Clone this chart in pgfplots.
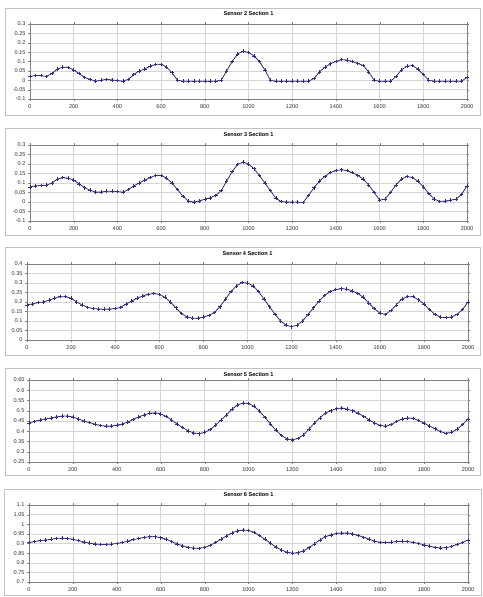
\documentclass[border=0pt]{standalone}
\usepackage{pgfplots}
\pgfplotsset{compat=1.18}
\usepackage{fontspec}
\setmainfont{Liberation Sans}
\definecolor{navy}{RGB}{50,45,125}
\definecolor{framegray}{RGB}{195,195,195}
\pgfplotsset{panel/.style={
  scale only axis, width=437bp, xmin=0, xmax=2000, xtick distance=200,
  grid=major, grid style={black!17, line width=0.45pt},
  axis line style={black!50}, tick style={black!50},
  tick align=outside, major tick length=2bp,
  ticklabel style={font=\fontsize{5.6}{6}\selectfont, text=black!80},
  /pgf/number format/assume math mode=true,
  yticklabel style={/pgf/number format/fixed, /pgf/number format/precision=2, xshift=1bp},
  xticklabel style={/pgf/number format/1000 sep={}},
  title style={font=\bfseries\fontsize{5.6}{6}\selectfont, at={(0.5,1)}, anchor=south, yshift=-1bp},
},
sens/.style={color=navy, mark=+, mark size=1.8bp, line width=0.8pt, mark options={line width=0.6pt, solid}}}
\begin{document}
\begin{tikzpicture}
\path[use as bounding box, fill=white] (0bp,0bp) rectangle (483bp,-597bp);
\draw[framegray, line width=0.6pt] (5bp,-8bp) rectangle (480bp,-115bp);
\draw[framegray, line width=0.6pt] (5bp,-128bp) rectangle (480bp,-235bp);
\draw[framegray, line width=0.6pt] (5bp,-247bp) rectangle (480bp,-355bp);
\draw[framegray, line width=0.6pt] (5bp,-368bp) rectangle (480bp,-475bp);
\draw[framegray, line width=0.6pt] (4bp,-489bp) rectangle (481bp,-595bp);

% Sensor 2
\begin{axis}[panel, at={(30bp,-99bp)}, anchor=south west, height=75bp,
  ymin=-0.1, ymax=0.3, ytick distance=0.05, title={Sensor 2 Section 1}]
\addplot[sens] coordinates {(0,0.02)(25,0.025)(50,0.025)(75,0.02)(100,0.035)(125,0.06)(150,0.07)(175,0.068)(200,0.055)(225,0.035)(250,0.015)(275,0.005)(300,-0.005)(325,0)(350,0.005)(375,0.002)(400,-0.002)(425,-0.005)(450,0.005)(475,0.03)(500,0.05)(525,0.06)(550,0.075)(575,0.085)(600,0.085)(625,0.07)(650,0.04)(675,0)(700,-0.005)(725,-0.005)(750,-0.005)(775,-0.005)(800,-0.005)(825,-0.005)(850,-0.005)(875,0)(900,0.05)(925,0.1)(950,0.14)(975,0.155)(1000,0.148)(1025,0.13)(1050,0.1)(1075,0.055)(1100,0)(1125,-0.005)(1150,-0.005)(1175,-0.005)(1200,-0.005)(1225,-0.005)(1250,-0.005)(1275,-0.005)(1300,0.01)(1325,0.045)(1350,0.07)(1375,0.088)(1400,0.1)(1425,0.11)(1450,0.108)(1475,0.1)(1500,0.09)(1525,0.078)(1550,0.045)(1575,0)(1600,-0.005)(1625,-0.005)(1650,-0.005)(1675,0.02)(1700,0.055)(1725,0.075)(1750,0.078)(1775,0.06)(1800,0.03)(1825,0)(1850,-0.005)(1875,-0.005)(1900,-0.005)(1925,-0.005)(1950,-0.005)(1975,-0.005)(2000,0.015)};
\end{axis}

% Sensor 3
\begin{axis}[panel, at={(30bp,-221bp)}, anchor=south west, height=76bp,
  ymin=-0.1, ymax=0.3, ytick distance=0.05, title={Sensor 3 Section 1}]
\addplot[sens] coordinates {(0,0.08)(25,0.085)(50,0.087)(75,0.088)(100,0.1)(125,0.12)(150,0.128)(175,0.125)(200,0.115)(225,0.095)(250,0.075)(275,0.062)(300,0.052)(325,0.052)(350,0.057)(375,0.057)(400,0.055)(425,0.052)(450,0.065)(475,0.085)(500,0.1)(525,0.115)(550,0.128)(575,0.14)(600,0.14)(625,0.125)(650,0.1)(675,0.065)(700,0.03)(725,0.005)(750,0)(775,0.005)(800,0.015)(825,0.022)(850,0.035)(875,0.06)(900,0.11)(925,0.16)(950,0.198)(975,0.21)(1000,0.2)(1025,0.175)(1050,0.14)(1075,0.1)(1100,0.06)(1125,0.02)(1150,0.002)(1175,0)(1200,0)(1225,0)(1250,-0.003)(1275,0.035)(1300,0.075)(1325,0.11)(1350,0.135)(1375,0.155)(1400,0.165)(1425,0.17)(1450,0.165)(1475,0.155)(1500,0.14)(1525,0.12)(1550,0.09)(1575,0.05)(1600,0.01)(1625,0.015)(1650,0.05)(1675,0.09)(1700,0.12)(1725,0.135)(1750,0.128)(1775,0.11)(1800,0.08)(1825,0.045)(1850,0.015)(1875,0.003)(1900,0.005)(1925,0.01)(1950,0.015)(1975,0.04)(2000,0.085)};
\end{axis}

% Sensor 4
\begin{axis}[panel, at={(27bp,-340bp)}, anchor=south west, width=441bp, height=76bp,
  ymin=0, ymax=0.4, ytick distance=0.05, title={Sensor 4 Section 1}]
\addplot[sens] coordinates {(0,0.185)(25,0.19)(50,0.197)(75,0.2)(100,0.21)(125,0.22)(150,0.228)(175,0.228)(200,0.22)(225,0.2)(250,0.185)(275,0.172)(300,0.165)(325,0.163)(350,0.162)(375,0.163)(400,0.165)(425,0.172)(450,0.19)(475,0.205)(500,0.22)(525,0.232)(550,0.24)(575,0.245)(600,0.24)(625,0.225)(650,0.2)(675,0.17)(700,0.14)(725,0.122)(750,0.115)(775,0.115)(800,0.12)(825,0.13)(850,0.145)(875,0.175)(900,0.215)(925,0.255)(950,0.285)(975,0.302)(1000,0.3)(1025,0.285)(1050,0.255)(1075,0.215)(1100,0.175)(1125,0.135)(1150,0.1)(1175,0.078)(1200,0.07)(1225,0.078)(1250,0.1)(1275,0.135)(1300,0.17)(1325,0.205)(1350,0.235)(1375,0.255)(1400,0.265)(1425,0.27)(1450,0.268)(1475,0.258)(1500,0.245)(1525,0.225)(1550,0.195)(1575,0.165)(1600,0.142)(1625,0.135)(1650,0.155)(1675,0.185)(1700,0.215)(1725,0.228)(1750,0.228)(1775,0.212)(1800,0.19)(1825,0.16)(1850,0.135)(1875,0.12)(1900,0.118)(1925,0.12)(1950,0.135)(1975,0.16)(2000,0.2)};
\end{axis}

% Sensor 5
\begin{axis}[panel, at={(29bp,-462bp)}, anchor=south west, width=439bp, height=82bp,
  ymin=0.25, ymax=0.65, ytick distance=0.05, title={Sensor 5 Section 1},
  title style={yshift=-5bp}]
\addplot[sens] coordinates {(0,0.44)(25,0.448)(50,0.455)(75,0.46)(100,0.465)(125,0.47)(150,0.474)(175,0.474)(200,0.47)(225,0.46)(250,0.45)(275,0.442)(300,0.435)(325,0.428)(350,0.425)(375,0.425)(400,0.43)(425,0.435)(450,0.445)(475,0.458)(500,0.47)(525,0.48)(550,0.488)(575,0.49)(600,0.485)(625,0.472)(650,0.455)(675,0.435)(700,0.418)(725,0.402)(750,0.392)(775,0.388)(800,0.395)(825,0.408)(850,0.43)(875,0.455)(900,0.48)(925,0.508)(950,0.528)(975,0.538)(1000,0.535)(1025,0.522)(1050,0.498)(1075,0.468)(1100,0.435)(1125,0.405)(1150,0.38)(1175,0.363)(1200,0.358)(1225,0.365)(1250,0.382)(1275,0.41)(1300,0.44)(1325,0.465)(1350,0.488)(1375,0.5)(1400,0.51)(1425,0.514)(1450,0.508)(1475,0.5)(1500,0.488)(1525,0.472)(1550,0.455)(1575,0.44)(1600,0.428)(1625,0.425)(1650,0.432)(1675,0.448)(1700,0.46)(1725,0.465)(1750,0.463)(1775,0.452)(1800,0.44)(1825,0.425)(1850,0.412)(1875,0.398)(1900,0.39)(1925,0.395)(1950,0.41)(1975,0.432)(2000,0.46)};
\end{axis}

% Sensor 6
\begin{axis}[panel, at={(29bp,-582bp)}, anchor=south west, width=439bp, height=77bp,
  ymin=0.7, ymax=1.1, ytick distance=0.05, title={Sensor 6 Section 1}]
\addplot[sens] coordinates {(0,0.905)(25,0.91)(50,0.915)(75,0.918)(100,0.922)(125,0.927)(150,0.928)(175,0.926)(200,0.922)(225,0.915)(250,0.908)(275,0.902)(300,0.898)(325,0.895)(350,0.895)(375,0.897)(400,0.9)(425,0.905)(450,0.912)(475,0.92)(500,0.926)(525,0.932)(550,0.935)(575,0.935)(600,0.93)(625,0.922)(650,0.91)(675,0.898)(700,0.888)(725,0.88)(750,0.876)(775,0.875)(800,0.88)(825,0.89)(850,0.905)(875,0.922)(900,0.94)(925,0.955)(950,0.966)(975,0.97)(1000,0.968)(1025,0.958)(1050,0.942)(1075,0.922)(1100,0.902)(1125,0.882)(1150,0.866)(1175,0.855)(1200,0.85)(1225,0.852)(1250,0.862)(1275,0.878)(1300,0.898)(1325,0.918)(1350,0.935)(1375,0.945)(1400,0.952)(1425,0.955)(1450,0.955)(1475,0.95)(1500,0.942)(1525,0.932)(1550,0.922)(1575,0.912)(1600,0.906)(1625,0.905)(1650,0.907)(1675,0.91)(1700,0.912)(1725,0.91)(1750,0.906)(1775,0.9)(1800,0.893)(1825,0.886)(1850,0.88)(1875,0.877)(1900,0.878)(1925,0.885)(1950,0.895)(1975,0.905)(2000,0.918)};
\end{axis}
\end{tikzpicture}
\end{document}
